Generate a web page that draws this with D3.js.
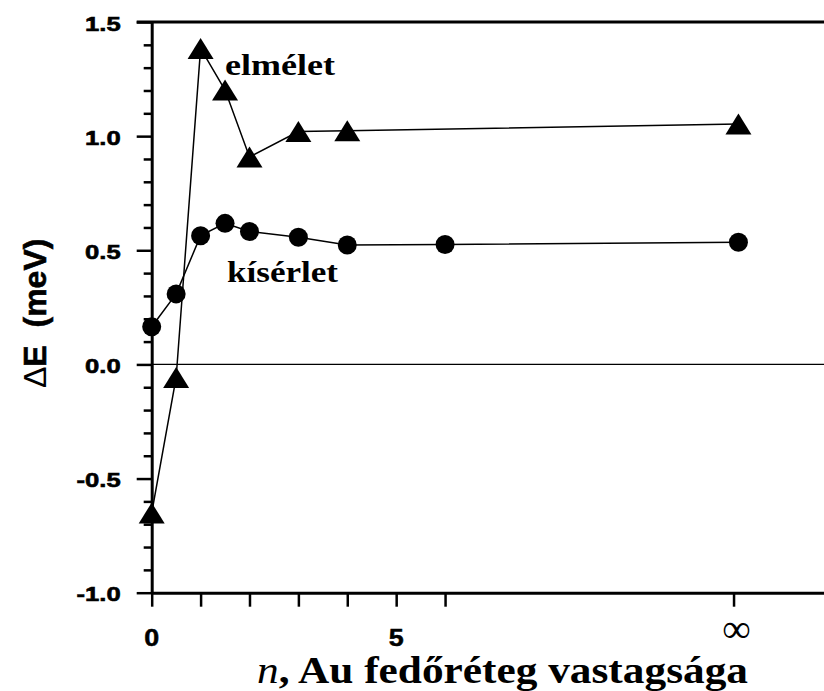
<!DOCTYPE html>
<html>
<head>
<meta charset="utf-8">
<script src="https://cdn.jsdelivr.net/npm/d3@7"></script>
<style>
  html, body { margin: 0; padding: 0; background: #fff; }
  svg { display: block; }
</style>
</head>
<body>
<svg id="chart" width="824" height="691"></svg>
<script>
// Au cover-layer thickness n (the ∞ column is placed at n = 12)
const nExperiment = [0, 0.5, 1, 1.5, 2, 3, 4, 6, 12];
const dEExperiment = [0.165, 0.309, 0.564, 0.618, 0.582, 0.557, 0.523, 0.525, 0.535];

const nTheory = [0, 0.5, 1, 1.5, 2, 3, 4, 12];
const dETheory = [-0.651, -0.057, 1.384, 1.202, 0.909, 1.020, 1.024, 1.053];

const xMajorTicks = [0, 1, 2, 3, 4, 5, 6];
const xInfinityTick = 11.9;
const xTickLabels = [{ v: 0, t: "0" }, { v: 5, t: "5" }, { v: 11.9, t: "∞" }];
const yMajorTicks = [-1, -0.5, 0, 0.5, 1, 1.5];
const yMinorTicks = d3.range(-10, 16).map(d => d / 10).filter(d => Math.abs(d * 2 - Math.round(d * 2)) > 1e-9);
const yTickFormat = d => d.toFixed(1);

const svg = d3.select("#chart");
const W = 824, H = 691;
const plotLeft = 151.7, plotRight = 824, plotTop = 22, plotBottom = 592.7;

const x = d3.scaleLinear().domain([0, 13.75]).range([plotLeft, plotRight]);
const y = d3.scaleLinear().domain([-1, 1.5]).range([plotBottom, plotTop]);

const sans = "'Liberation Sans', Arial, sans-serif";
const serif = "'Liberation Serif', 'Times New Roman', serif";

svg.append("rect").attr("width", W).attr("height", H).attr("fill", "#fff");

// zero reference line
svg.append("line")
  .attr("x1", x(0)).attr("x2", plotRight)
  .attr("y1", y(0)).attr("y2", y(0))
  .attr("stroke", "#000").attr("stroke-width", 1.4);

// top frame line
svg.append("line")
  .attr("x1", x(0) - 15).attr("x2", plotRight)
  .attr("y1", y(1.5)).attr("y2", y(1.5))
  .attr("stroke", "#000").attr("stroke-width", 3);

// y axis: minor ticks
svg.append("g")
  .attr("transform", `translate(${plotLeft},0)`)
  .call(d3.axisLeft(y).tickValues(yMinorTicks).tickSize(8).tickSizeOuter(0).tickFormat(""))
  .call(g => g.select(".domain").remove())
  .call(g => g.selectAll("line").attr("stroke-width", 2.5));

// y axis: major ticks and labels
const yAxis = svg.append("g")
  .attr("transform", `translate(${plotLeft},0)`)
  .call(d3.axisLeft(y).tickValues(yMajorTicks).tickSize(15).tickSizeOuter(0).tickFormat(yTickFormat));
yAxis.select(".domain").attr("stroke-width", 3);
yAxis.selectAll(".tick line").attr("stroke-width", 2.5);
yAxis.selectAll(".tick text")
  .attr("x", null).attr("dy", null)
  .attr("transform", "translate(-31,8) scale(1.25,1)")
  .attr("font-family", sans)
  .attr("font-weight", "bold")
  .attr("font-size", 20.5)
  .attr("fill", "#000")
  .attr("stroke", "#000")
  .attr("stroke-width", 0.6);

// x axis
const xAxis = svg.append("g")
  .attr("transform", `translate(0,${plotBottom})`)
  .call(d3.axisBottom(x).tickValues(xMajorTicks.concat([xInfinityTick])).tickSize(14).tickSizeOuter(0).tickFormat(""));
xAxis.select(".domain").attr("stroke-width", 3);
xAxis.selectAll(".tick line").attr("stroke-width", 2.5);

// x tick labels
svg.append("g").selectAll("text")
  .data(xTickLabels)
  .join("text")
  .attr("x", d => x(d.v) + (d.t === "∞" ? 3 : 0))
  .attr("y", d => d.t === "∞" ? 642 : 646)
  .attr("text-anchor", "middle")
  .attr("font-family", d => d.t === "∞" ? serif : sans)
  .attr("font-weight", d => d.t === "∞" ? "normal" : "bold")
  .attr("font-size", d => d.t === "∞" ? 40 : 24)
  .attr("stroke", d => d.t === "∞" ? "none" : "#000")
  .attr("stroke-width", 0.5)
  .attr("transform", d => d.t === "∞" ? null : `translate(${x(d.v)},0) scale(1.12,1) translate(${-x(d.v)},0)`)
  .text(d => d.t);

// series lines
const line = d3.line().x(d => x(d[0])).y(d => y(d[1]));
const expPts = nExperiment.map((n, i) => [n, dEExperiment[i]]);
const thPts = nTheory.map((n, i) => [n, dETheory[i]]);

svg.append("path").datum(thPts).attr("d", line)
  .attr("fill", "none").attr("stroke", "#000").attr("stroke-width", 1.5);
svg.append("path").datum(expPts).attr("d", line)
  .attr("fill", "none").attr("stroke", "#000").attr("stroke-width", 1.5);

// markers
const triW = 26, triH = 21;
const triPath = `M0,${-triH / 2}L${triW / 2},${triH / 2}L${-triW / 2},${triH / 2}Z`;
svg.append("g").selectAll("path")
  .data(thPts)
  .join("path")
  .attr("d", triPath)
  .attr("transform", d => `translate(${x(d[0])},${y(d[1])})`)
  .attr("fill", "#000");

svg.append("g").selectAll("circle")
  .data(expPts)
  .join("circle")
  .attr("cx", d => x(d[0]))
  .attr("cy", d => y(d[1]))
  .attr("r", 9.5)
  .attr("fill", "#000");

// series labels
svg.append("text")
  .attr("x", 225).attr("y", 75)
  .attr("font-family", serif).attr("font-weight", "bold").attr("font-size", 30)
  .attr("textLength", 110).attr("lengthAdjust", "spacingAndGlyphs")
  .text("elmélet");
svg.append("text")
  .attr("x", 227).attr("y", 282)
  .attr("font-family", serif).attr("font-weight", "bold").attr("font-size", 30)
  .attr("textLength", 111).attr("lengthAdjust", "spacingAndGlyphs")
  .text("kísérlet");

// x axis title
const xt = svg.append("text")
  .attr("x", 257).attr("y", 683)
  .attr("font-family", serif).attr("font-size", 37)
  .attr("textLength", 491).attr("lengthAdjust", "spacingAndGlyphs")
  .style("white-space", "pre");
xt.append("tspan").attr("font-style", "italic").text("n");
xt.append("tspan").attr("font-weight", "bold").text(", Au fedőréteg vastagsága");

// y axis title
const yt = svg.append("text")
  .attr("transform", "translate(46,388) rotate(-90)")
  .attr("font-family", sans)
  .attr("font-size", 32)
  .style("white-space", "pre");
yt.append("tspan").attr("font-weight", "normal").text("Δ");
yt.append("tspan").attr("font-weight", "bold").attr("stroke", "#000").attr("stroke-width", 0.6).text("E  (meV)");
</script>
</body>
</html>
